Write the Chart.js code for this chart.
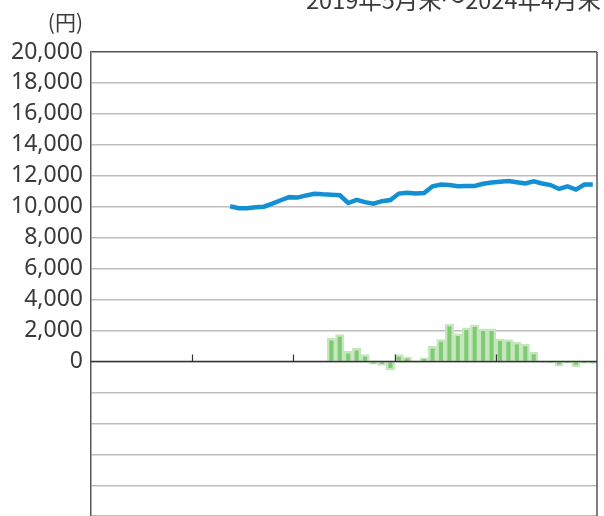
<!DOCTYPE html>
<html>
<head>
<meta charset="utf-8">
<script src="https://cdn.jsdelivr.net/npm/chart.js@4/dist/chart.umd.min.js"></script>
<style>
  html, body { margin: 0; padding: 0; background: #fff; overflow: hidden; }
  #wrap { position: relative; width: 604px; height: 516px; overflow: hidden; }
  #period { position: absolute; right: 3px; top: -12px; font: 23.5px "Noto Sans CJK JP", "Noto Sans", sans-serif; color: #3a3a3a; white-space: nowrap; line-height: 23px; }
  #unit { position: absolute; right: 521px; top: 10px; font: 21px "Noto Sans CJK JP", "Noto Sans", sans-serif; color: #3a3a3a; line-height: 22px; }
</style>
</head>
<body>
<div id="wrap">
  <canvas id="chart" width="604" height="538"></canvas>
  <div id="period">2019年5月末〜2024年4月末</div>
  <div id="unit">(円)</div>
</div>
<script>
// Month-end categories, May 2019 to April 2024
const months = [
  "2019/05","2019/06","2019/07","2019/08","2019/09","2019/10","2019/11","2019/12",
  "2020/01","2020/02","2020/03","2020/04","2020/05","2020/06","2020/07","2020/08","2020/09","2020/10","2020/11","2020/12",
  "2021/01","2021/02","2021/03","2021/04","2021/05","2021/06","2021/07","2021/08","2021/09","2021/10","2021/11","2021/12",
  "2022/01","2022/02","2022/03","2022/04","2022/05","2022/06","2022/07","2022/08","2022/09","2022/10","2022/11","2022/12",
  "2023/01","2023/02","2023/03","2023/04","2023/05","2023/06","2023/07","2023/08","2023/09","2023/10","2023/11","2023/12",
  "2024/01","2024/02","2024/03","2024/04"
];

// Net asset value per unit (円), line
const navValues = [
  null, null, null, null, null, null, null, null,
  null, null, null, null, null, null, null, null,
  10030, 9900, 9900, 9960, 10000, 10200, 10420, 10620,
  10590, 10730, 10840, 10800, 10780, 10740, 10240, 10440,
  10300, 10200, 10360, 10430, 10850, 10900, 10850, 10880,
  11320, 11440, 11400, 11320, 11340, 11340, 11480, 11560,
  11620, 11660, 11580, 11500, 11640, 11500, 11400, 11150,
  11320, 11110, 11440, 11440
];

// 12-month change (円), bars
const changeValues = [
  null, null, null, null, null, null, null, null,
  null, null, null, null, null, null, null, null,
  null, null, null, null, null, null, null, null,
  null, null, null, null,
  1500, 1730, 650, 850, 440, -180, -250, -560,
  450, 280, -50, 240, 980, 1420, 2420, 1790,
  2180, 2370, 2110, 2110, 1470, 1410, 1260, 1120,
  600, -30, -80, -300, -110, -340, -110, -120
];

// Year boundaries marked on the zero line
const yearMarks = [12, 24, 36, 48];

const yTickValues = [-10000, -8000, -6000, -4000, -2000, 0, 2000, 4000, 6000, 8000, 10000, 12000, 14000, 16000, 18000, 20000];

const framePlugin = {
  id: 'frame',
  afterDatasetsDraw(chart) {
    const { ctx, chartArea: a, scales: { x, y } } = chart;
    ctx.save();
    // right edge of the frame
    ctx.strokeStyle = '#555';
    ctx.lineWidth = 1.5;
    ctx.beginPath();
    ctx.moveTo(a.right, a.top);
    ctx.lineTo(a.right, a.bottom);
    ctx.stroke();
    // zero line
    const y0 = y.getPixelForValue(0);
    ctx.strokeStyle = '#333';
    ctx.lineWidth = 1.5;
    ctx.beginPath();
    ctx.moveTo(a.left, y0);
    ctx.lineTo(a.right, y0);
    ctx.stroke();
    // year tick marks
    const step = x.getPixelForValue(1) - x.getPixelForValue(0);
    ctx.lineWidth = 1.2;
    yearMarks.forEach(i => {
      const px = Math.round(x.getPixelForValue(i) - step / 2) + 0.5;
      ctx.beginPath();
      ctx.moveTo(px, y0);
      ctx.lineTo(px, y0 - 7);
      ctx.stroke();
    });
    ctx.restore();
  }
};

new Chart(document.getElementById('chart'), {
  type: 'bar',
  data: {
    labels: months,
    datasets: [
      {
        type: 'line',
        label: '基準価額',
        data: navValues,
        borderColor: '#138fd4',
        borderWidth: 4.5,
        pointRadius: 0,
        tension: 0,
        spanGaps: false,
        order: 0
      },
      {
        type: 'bar',
        label: '騰落額',
        data: changeValues,
        backgroundColor: '#7fcb74',
        borderColor: '#c6e7bd',
        borderWidth: 2.5,
        borderSkipped: 'start',
        barPercentage: 1,
        categoryPercentage: 1,
        order: 1
      }
    ]
  },
  options: {
    responsive: false,
    animation: false,
    layout: { padding: { left: 0, right: 7, top: 52, bottom: 0 } },
    plugins: { legend: { display: false }, tooltip: { enabled: false } },
    scales: {
      x: {
        type: 'category',
        display: false,
        offset: true
      },
      y: {
        min: -10000,
        max: 20000,
        afterFit(scale) { scale.width = 91; },
        afterBuildTicks(scale) {
          scale.ticks = yTickValues.map(v => ({ value: v }));
        },
        ticks: {
          padding: 8,
          color: '#3a3a3a',
          font: { family: '"Noto Sans", sans-serif', size: 23 },
          callback: v => (v < 0 ? '' : Number(v).toLocaleString('en-US'))
        },
        grid: {
          drawTicks: false,
          lineWidth: 1.5,
          color: ctx => (ctx.tick && ctx.tick.value === 20000 ? '#555' : '#bdbdbd')
        },
        border: { display: true, color: '#555', width: 1.5 }
      }
    }
  },
  plugins: [framePlugin]
});
</script>
</body>
</html>
